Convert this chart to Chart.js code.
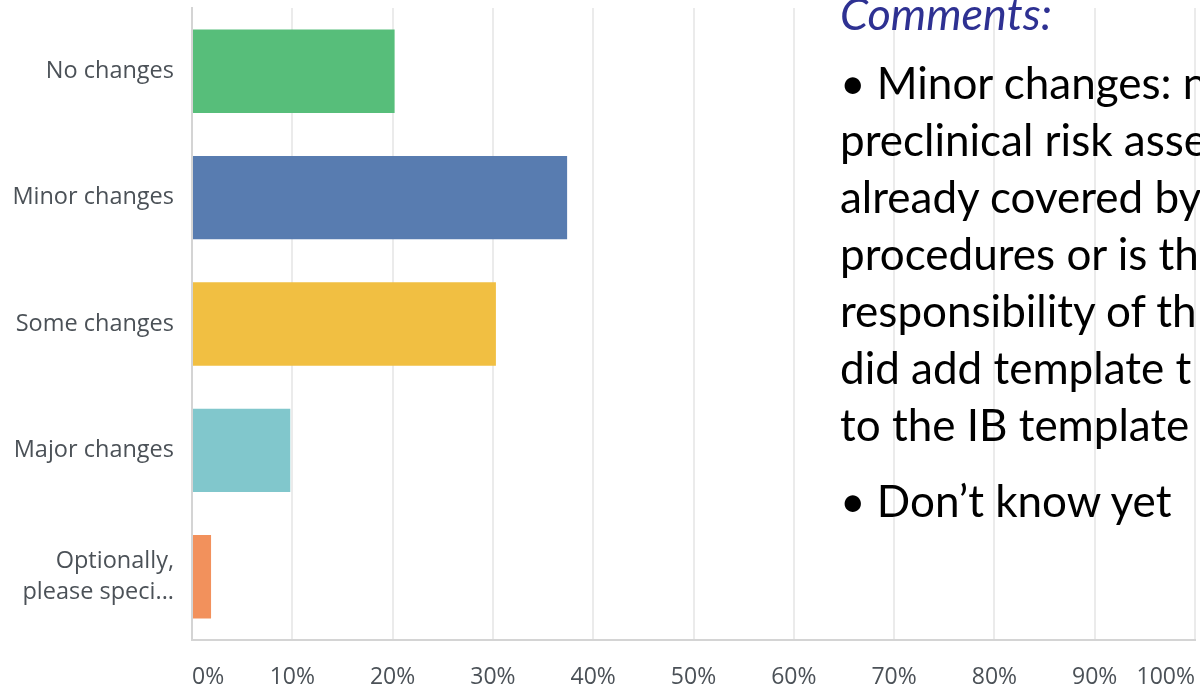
<!DOCTYPE html>
<html>
<head>
<meta charset="utf-8">
<script src="https://cdn.jsdelivr.net/npm/chart.js@4.4.1/dist/chart.umd.min.js"></script>
<style>
    html, body { margin: 0; padding: 0; background: #fff; }
    #wrap { position: relative; width: 1200px; height: 688px; overflow: hidden; }
    #myBarChart { position: absolute; left: 0; top: 0; }
    .note { position: absolute; left: 840px; font-family: "Lato", sans-serif; font-size: 44px; color: #000; white-space: pre; line-height: 57px; }
    .note.title { font-style: italic; color: #2e3192; font-size: 45px; }
</style>
</head>
<body>
<div id="wrap">
    <canvas id="myBarChart" width="1200" height="688"></canvas>
    <div class="note title" style="top:-15px;">Comments:</div>
    <div class="note" style="top:54px;">• Minor changes: n
preclinical risk asse
already covered by
procedures or is th
responsibility of th
did add template t
to the IB template</div>
    <div class="note" style="top:472px;">• Don’t know yet</div>
</div>
<script>
const categories = ['No changes', 'Minor changes', 'Some changes', 'Major changes', ['Optionally,', 'please speci...']];
const percentValues = [20.2, 37.4, 30.3, 9.8, 1.9];
const barColours = ['#57be7a', '#587cb0', '#f1bf42', '#81c7cc', '#f2915c'];
const tickLabels = ['0%', '10%', '20%', '30%', '40%', '50%', '60%', '70%', '80%', '90%', '100%'];

const noPadding = (scale) => {
    scale.paddingTop = 0;
    scale.paddingBottom = 0;
    scale.paddingLeft = 0;
    scale.paddingRight = 0;
}

const loadBarChart =()=>{
    const ctx = document.getElementById('myBarChart').getContext('2d');

    const data = {
        labels: categories,
        datasets: [{
            data: percentValues,
            backgroundColor: barColours,
            borderWidth: 0,
            barPercentage: 0.66,
            categoryPercentage: 1
        }]
    };

    const config = {
        type: 'bar',
        data: data,
        options: {
            indexAxis: 'y',
            responsive: false,
            animation: false,
            layout: { padding: { top: 8, right: 5, left: 0, bottom: 0 } },
            plugins: {
                legend: { display: false },
                tooltip: { enabled: false }
            },
            scales: {
                x: {
                    min: 0,
                    max: 100,
                    afterBuildTicks: (scale) => {
                        scale.ticks = tickLabels.map((t, i) => ({ value: i * 10 }));
                    },
                    afterFit: (scale) => { scale.height = 48; noPadding(scale); },
                    grid: { color: '#ebebeb', lineWidth: 2, drawTicks: false },
                    border: { color: '#d4d4d4', width: 2 },
                    ticks: {
                        align: 'inner',
                        padding: 24,
                        color: '#4b5157',
                        font: { family: 'Open Sans', size: 23 },
                        callback: (v, i) => tickLabels[i]
                    }
                },
                y: {
                    afterFit: (scale) => { scale.width = 192; noPadding(scale); },
                    grid: { display: false, drawTicks: false },
                    border: { color: '#d4d4d4', width: 2 },
                    ticks: {
                        padding: 18,
                        color: '#4b5157',
                        font: { family: 'Open Sans', size: 23.5, lineHeight: 1.3 }
                    }
                }
            }
        }
    };

    const myBarChart = new Chart(ctx, config);
}

loadBarChart();
</script>
</body>
</html>
